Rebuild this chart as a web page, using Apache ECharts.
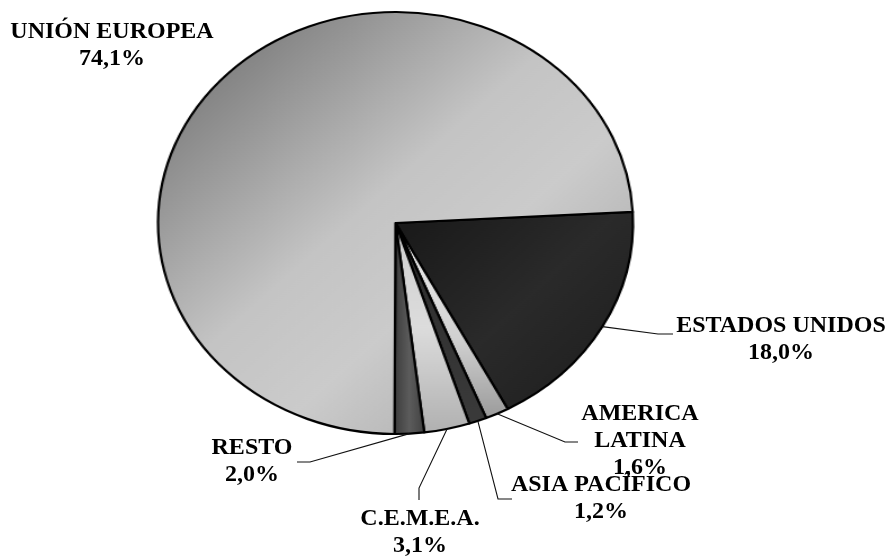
<!DOCTYPE html>
<html><head><meta charset="utf-8">
<script src="https://cdn.jsdelivr.net/npm/echarts@6/dist/echarts.min.js"></script>
<style>
html,body{margin:0;padding:0;background:#fff;}
#wrap{position:relative;width:889px;height:556px;overflow:hidden;background:#fff;}
#pie{position:absolute;left:0;top:0;width:889px;height:556px;transform-origin:395.5px 223px;transform:scaleX(1.1256);}
#labels{position:absolute;left:0;top:0;width:889px;height:556px;}
</style></head><body>
<div id="wrap"><div id="pie"></div><div id="labels"></div></div>
<script>
// ---- data ----
const categories = ['ESTADOS UNIDOS', 'AMERICA\nLATINA', 'ASIA PACÍFICO', 'C.E.M.E.A.', 'RESTO', 'UNIÓN EUROPEA'];
const values = [18.0, 1.6, 1.2, 3.1, 2.0, 74.1];

// ---- styles / layout ----
const CX = 395.5, CY = 223, R = 211, KX = 237.5 / 211;
function grad(x2, y2, stops) {
  return new echarts.graphic.LinearGradient(0, 0, x2, y2, stops.map((c) => ({offset: c[0], color: c[1]})));
}
const fills = [
  grad(1, 1, [[0, '#181818'], [0.5, '#2a2a2a'], [1, '#1c1c1c']]),
  grad(0, 1, [[0, '#f2f2f2'], [0.6, '#d0d0d0'], [1, '#9a9a9a']]),
  grad(0, 1, [[0, '#2c2c2c'], [1, '#3a3a3a']]),
  grad(0, 1, [[0, '#cfcfcf'], [0.5, '#dcdcdc'], [1, '#b0b0b0']]),
  grad(1, 0, [[0, '#3a3a3a'], [0.5, '#5c5c5c'], [1, '#404040']]),
  grad(1, 1, [[0, '#666666'], [0.45, '#c4c4c4'], [0.62, '#cbcbcb'], [1, '#9c9c9c']])
];
// label block: center x, top y ; leader elbow and end
const labelPos = [[781, 312], [640, 400], [601, 471], [420, 505], [252, 434], [112, 18]];
const leader = [
  [[658, 334], [673, 334]],
  [[565, 442], [578, 442]],
  [[498, 499], [512, 499]],
  [[419, 488], [419, 500]],
  [[310, 462], [297, 462]],
  null
];

const pieData = categories.map((n, i) => ({name: n, value: values[i], itemStyle: {color: fills[i]}}));

const chartA = echarts.init(document.getElementById('pie'), null, {renderer: 'canvas'});
chartA.setOption({
  animation: false,
  backgroundColor: 'transparent',
  series: [{
    type: 'pie',
    silent: true,
    center: [CX, CY],
    radius: R,
    startAngle: 3,
    clockwise: true,
    avoidLabelOverlap: false,
    label: {show: false},
    labelLine: {show: false},
    itemStyle: {borderColor: '#000', borderWidth: 2.2},
    emphasis: {disabled: true},
    data: pieData
  }]
});

const fmt = v => v.toFixed(1).replace('.', ',') + '%';
const chartB = echarts.init(document.getElementById('labels'), null, {renderer: 'canvas'});
chartB.setOption({
  animation: false,
  backgroundColor: 'transparent',
  series: [{
    type: 'pie',
    silent: true,
    center: [CX, CY],
    radius: R,
    startAngle: 3,
    clockwise: true,
    avoidLabelOverlap: false,
    itemStyle: {color: 'rgba(0,0,0,0)', borderWidth: 0},
    emphasis: {disabled: true},
    label: {
      show: true,
      position: 'outside',
      formatter: p => p.name + '\n' + fmt(p.value),
      color: '#000',
      fontFamily: 'Liberation Serif',
      fontWeight: 'bold',
      fontSize: 24,
      lineHeight: 27,
      align: 'center'
    },
    labelLine: {show: true, lineStyle: {color: '#111', width: 1.1}},
    labelLayout: function (params) {
      const i = params.dataIndex;
      const out = {x: labelPos[i][0], y: labelPos[i][1], align: 'center', verticalAlign: 'top'};
      const pts = params.labelLinePoints;
      if (leader[i] && pts && pts.length) {
        const s = [CX + (pts[0][0] - CX) * KX, pts[0][1]];
        out.labelLinePoints = [s, leader[i][0], leader[i][1]];
      }
      return out;
    },
    data: categories.map((n, i) => ({
      name: n, value: values[i],
      labelLine: {show: !!leader[i]}
    }))
  }]
});
</script>
</body></html>
